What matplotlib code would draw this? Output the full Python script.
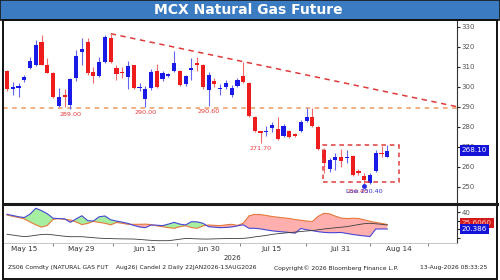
import numpy as np
import pandas as pd
import matplotlib
matplotlib.use("Agg")
import matplotlib.pyplot as plt
from matplotlib.patches import Rectangle
from matplotlib.lines import Line2D

# daily candles, 13 May 2026 .. 13 Aug 2026 (MCX natural gas, Rs/mmBtu)
first_day = "2026-05-13"
last_day = "2026-08-13"

opens = [308.0, 298.8, 299.6, 303.4, 309.2, 311.0, 322.5, 310.9, 307.0, 290.4,
         295.9, 291.0, 304.2, 317.5, 322.5, 307.5, 305.3, 312.5, 324.2, 309.2,
         307.5, 305.0, 310.7, 299.2, 293.7, 299.2, 307.8, 303.7, 305.5, 308.0,
         307.8, 301.4, 308.4, 312.0, 310.9, 298.4, 302.9, 298.7, 300.0, 295.9,
         300.5, 305.3, 302.0, 285.0, 277.6, 277.2, 279.2, 278.7, 275.5, 278.0,
         276.5, 278.0, 283.0, 284.8, 279.8, 268.5, 259.0, 263.4, 265.0, 264.4,
         265.3, 257.6, 255.5, 252.0, 258.0, 266.8, 265.0]
highs = [308.5, 302.5, 301.7, 306.0, 315.0, 323.3, 326.0, 314.5, 307.5, 299.2,
         299.0, 304.5, 318.3, 324.5, 324.3, 310.0, 315.0, 326.0, 326.5, 311.0,
         310.0, 313.0, 311.0, 301.7, 300.4, 309.0, 311.2, 308.0, 306.7, 317.8,
         308.5, 306.0, 314.2, 315.0, 311.5, 307.5, 304.2, 301.4, 303.4, 300.9,
         304.2, 312.5, 302.5, 285.5, 278.0, 280.5, 282.5, 285.0, 281.5, 278.5,
         277.0, 283.3, 289.5, 289.5, 280.3, 269.5, 264.5, 266.7, 269.0, 268.3,
         266.0, 259.0, 257.0, 257.0, 268.3, 270.5, 270.8]
lows = [298.0, 296.0, 295.0, 302.5, 309.0, 310.5, 310.8, 306.8, 294.5, 289.8,
        290.0, 289.0, 303.0, 311.0, 306.0, 301.7, 305.0, 312.0, 312.0, 303.4,
        304.5, 298.7, 298.8, 298.0, 290.0, 298.5, 299.2, 303.0, 305.0, 307.3,
        300.3, 300.6, 303.4, 307.8, 299.0, 290.6, 299.8, 295.8, 299.0, 295.0,
        300.0, 302.0, 284.8, 277.5, 271.7, 275.5, 277.5, 273.3, 274.8, 274.2,
        274.8, 277.5, 282.5, 280.0, 268.5, 256.8, 257.2, 258.5, 260.0, 261.7,
        255.5, 255.8, 250.4, 251.2, 257.5, 265.0, 264.7]
closes = [299.0, 299.8, 300.6, 304.7, 312.9, 320.8, 311.0, 307.0, 295.0, 295.0,
          295.0, 303.7, 315.3, 318.7, 306.7, 305.3, 312.5, 325.0, 312.5, 306.4,
          306.7, 310.3, 299.2, 300.0, 298.7, 307.5, 299.7, 306.7, 306.2, 311.7,
          300.9, 305.3, 309.2, 310.9, 299.7, 305.9, 301.2, 299.5, 302.0, 299.5,
          303.4, 302.5, 285.2, 278.0, 277.0, 278.0, 280.8, 273.7, 280.2, 274.8,
          275.3, 282.5, 285.0, 280.3, 269.0, 261.8, 263.2, 264.8, 263.0, 265.0,
          256.0, 257.0, 253.6, 256.0, 266.8, 266.2, 268.10]

# DMI study: +DI, -DI, ADX
di_plus = [37.3, 36.0, 34.5, 33.6, 37.5, 44.3, 41.5, 38.0, 32.8, 32.4,
           32.1, 28.1, 32.0, 35.7, 30.0, 29.6, 34.5, 35.4, 31.0, 29.5,
           28.3, 26.8, 24.5, 22.8, 21.9, 25.0, 24.8, 24.2, 26.0, 28.0,
           26.0, 25.0, 28.8, 28.6, 27.0, 23.0, 22.5, 21.9, 22.2, 22.7,
           24.0, 25.2, 21.2, 21.2, 20.5, 19.3, 18.3, 17.6, 17.0, 16.4,
           15.6, 21.0, 19.5, 18.5, 17.3, 16.5, 16.1, 16.2, 16.4, 15.2,
           14.1, 13.2, 12.4, 11.7, 20.4, 20.4, 20.386]
di_minus = [36.5, 35.0, 33.7, 32.0, 28.5, 25.2, 22.5, 24.5, 31.5, 32.4,
            31.5, 30.8, 28.5, 25.5, 26.8, 29.2, 28.0, 27.0, 25.2, 27.9,
            27.0, 25.8, 25.8, 25.8, 26.0, 25.5, 24.0, 23.0, 22.0, 21.2,
            23.0, 24.2, 22.0, 21.2, 24.0, 25.0, 24.6, 24.2, 25.2, 25.8,
            24.5, 27.0, 35.5, 37.3, 37.0, 36.0, 34.8, 34.0, 33.2, 32.5,
            31.3, 30.5, 29.6, 29.0, 35.0, 38.5, 37.8, 35.2, 33.0, 32.4,
            32.8, 32.5, 31.0, 29.2, 28.0, 26.8, 25.606]
adx = [14.3, 13.4, 12.4, 11.6, 12.2, 13.2, 14.0, 14.3, 13.6, 12.8,
       12.0, 11.5, 11.5, 11.5, 10.9, 10.4, 9.8, 9.5, 9.3, 9.1,
       9.0, 8.9, 8.8, 8.3, 7.8, 7.3, 6.9, 6.9, 6.9, 7.7,
       8.6, 9.5, 9.3, 9.0, 8.8, 8.8, 9.0, 9.2, 9.3, 9.4,
       9.5, 9.6, 10.2, 11.3, 12.1, 13.0, 14.1, 15.0, 15.6, 16.3,
       16.8, 17.5, 18.1, 18.6, 19.5, 20.4, 21.1, 21.8, 22.5, 23.1,
       24.3, 25.5, 26.5, 27.0, 26.4, 25.8, 25.0]

tick_dates = ["2026-05-15", "2026-05-29", "2026-06-15", "2026-06-30",
              "2026-07-15", "2026-07-31", "2026-08-14"]
tick_labels = ["May 15", "May 29", "Jun 15", "Jun 30", "Jul 15", "Jul 31", "Aug 14"]
price_ticks = [250, 260, 270, 280, 290, 300, 310, 320, 330]

# annotations
support = 289.3
labelled_lows = ["2026-05-28", "2026-06-16", "2026-07-01", "2026-07-14"]
low_day = "2026-08-07"
trend_from = ("2026-06-08", 326.5)
trend_to_price = 290.0
range_box = (54.9, 68.0, 252.5, 270.8)   # x0, x1 in bars, y0, y1 in price

title = "MCX Natural Gas Future"
footer_left = "ZS06 Comdty (NATURAL GAS FUT    Aug26) Candel 2 Daily 22JAN2026-13AUG2026"
footer_mid = "Copyright\u00a9 2026 Bloomberg Finance L.P."
footer_right = "13-Aug-2026 08:33:25"

UP, DOWN = "#1a1ae6", "#ee1c1c"
W, H = 500, 280


def bar_no(day):
    return np.busday_count(first_day, day)


def px_rect(x0, y0, x1, y1):
    return [x0 / W, 1 - y1 / H, (x1 - x0) / W, (y1 - y0) / H]


opens, highs, lows, closes = map(np.array, (opens, highs, lows, closes))
di_plus, di_minus, adx = map(np.array, (di_plus, di_minus, adx))
x = np.arange(len(closes))
xlim = (-0.69, 78.1)

plt.rcParams["font.family"] = ["DejaVu Sans"]
fig = plt.figure(figsize=(5, 2.8), dpi=100)

# title bar and frame
fig.patches.append(Rectangle((0, 1 - 19.5 / H), 1, 19.5 / H, transform=fig.transFigure,
                             facecolor="#3b7bc2", edgecolor="#1a1a1a", lw=1.2))
fig.text(0.497, 1 - 10 / H, title, ha="center", va="center", color="white",
         fontsize=10, fontweight="bold")
fig.patches.append(Rectangle((2.5 / W, 1 - 278.5 / H), 494.5 / W, 259 / H,
                             transform=fig.transFigure, fill=False,
                             edgecolor="#111111", lw=1.4))

ax = fig.add_axes(px_rect(3, 20, 457, 203))
ax2 = fig.add_axes(px_rect(3, 205, 457, 243))

# candles
up = closes >= opens
body_col = np.where(up, UP, DOWN)
wick_col = np.where(up, "#6464f0", "#f06a6a")
ax.vlines(x, lows, highs, colors=wick_col, lw=0.8, zorder=2)
ax.bar(x, np.maximum(np.abs(closes - opens), 0.7), bottom=np.minimum(opens, closes),
       width=0.72, color=body_col, lw=0, zorder=3)

# support line, falling trendline, consolidation box
ax.axhline(support, color="#ef9a60", lw=1.1, ls=(0, (3, 3)), zorder=1)
t0 = bar_no(trend_from[0])
ax.plot([t0, xlim[1]], [trend_from[1], trend_to_price], color="#e03a3a", lw=1.1,
        ls=(0, (3.5, 3)), zorder=1)
bx0, bx1, by0, by1 = range_box
ax.add_patch(Rectangle((bx0, by0), bx1 - bx0, by1 - by0, fill=False,
                       edgecolor="#e03a3a", lw=1.1, ls=(0, (3, 2.5)), zorder=4))

for d in labelled_lows:
    i = bar_no(d)
    ax.annotate(f"{lows[i]:.2f}", (i, lows[i]), xytext=(0, -4), textcoords="offset points",
                ha="center", va="center", fontsize=4.6, color="#e83c3c")
li = bar_no(low_day)
ax.plot(li, lows[li], "o", ms=2.5, color="#2a2ae0", zorder=5)
# the low flag prints its value twice, slightly offset
ax.annotate(f"{lows[li]:.2f}", (li, lows[li]), xytext=(-4.5, -4), textcoords="offset points",
            ha="center", va="center", fontsize=4.6, color="#e83c3c")
ax.annotate(f"Low {lows[li]:.2f}", (li, lows[li]), xytext=(0, -4), textcoords="offset points",
            ha="center", va="center", fontsize=4.6, color="#3030d8")

ax.set_xlim(*xlim)
ax.set_ylim(241.85, 333.35)
ax.yaxis.tick_right()
ax.set_yticks(price_ticks)
ax.tick_params(axis="y", labelsize=5, labelcolor="#555555", length=2, width=0.8,
               pad=1.5, color="#222222")
ax.set_xticks([])
for s in ["top", "left", "bottom"]:
    ax.spines[s].set_visible(False)
ax.spines["right"].set_color("#333333")
ax.spines["right"].set_linewidth(0.8)
ax.annotate(f"{closes[-1]:.2f}", (1, closes[-1]), xycoords=("axes fraction", "data"),
            xytext=(3.5, 0), textcoords="offset points", ha="left", va="center",
            fontsize=5.2, color="white",
            bbox=dict(boxstyle="square,pad=0.3", fc="#1414d8", ec="none"))

# separator between panels
fig.add_artist(Line2D([3 / W, 497 / W], [1 - 203.8 / H] * 2, color="#1a1a1a", lw=2.2))

# DMI panel
ax2.fill_between(x, di_plus, di_minus, where=di_plus >= di_minus, interpolate=True,
                 color="#a6efa0", lw=0)
ax2.fill_between(x, di_plus, di_minus, where=di_plus < di_minus, interpolate=True,
                 color="#ffb0ae", lw=0)
ax2.plot(x, di_minus, color="#e5793c", lw=0.8)
ax2.plot(x, di_plus, color="#4646d4", lw=0.8)
ax2.plot(x, adx, color="#3c3c3c", lw=0.6)
ax2.set_xlim(*xlim)
ax2.set_ylim(4.23, 48.08)
ax2.yaxis.tick_right()
ax2.set_yticks([10, 20, 30, 40])
ax2.set_yticklabels(["", "", "", "40"])
ax2.tick_params(axis="y", labelsize=5, labelcolor="#555555", length=2, width=0.8,
                pad=1.5, color="#222222")
ax2.annotate(f"{di_minus[-1]:.4f}", (1, di_minus[-1]), xycoords=("axes fraction", "data"),
             xytext=(3.5, 1), textcoords="offset points", ha="left", va="center",
             fontsize=5.2, color="#ffcccc",
             bbox=dict(boxstyle="square,pad=0.3", fc="#d21a1a", ec="none"))
ax2.annotate(f"{di_plus[-1]:.3f}", (1, di_plus[-1]), xycoords=("axes fraction", "data"),
             xytext=(3.5, 0), textcoords="offset points", ha="left", va="center",
             fontsize=5.2, color="white",
             bbox=dict(boxstyle="square,pad=0.3", fc="#1414d8", ec="none"))

pos = np.array([bar_no(d) for d in tick_dates]) + 0.95
ax2.set_xticks(pos)
ax2.set_xticklabels(tick_labels)
mids = np.append((pos[:-1] + pos[1:]) / 2, pos[-1] + 5.2)
ax2.set_xticks(mids, minor=True)
ax2.tick_params(axis="x", which="major", length=0, labelsize=5.2, labelcolor="#333333", pad=2)
ax2.tick_params(axis="x", which="minor", length=2.5, width=0.6, color="#666666")
for s in ["top", "left"]:
    ax2.spines[s].set_visible(False)
ax2.spines["right"].set_color("#333333")
ax2.spines["right"].set_linewidth(0.8)
ax2.spines["bottom"].set_color("#bbbbbb")
ax2.spines["bottom"].set_linewidth(0.6)

# year marker and footer
fig.text(232 / W, 1 - 258 / H, "2026", ha="center", va="center", fontsize=5, color="#333333")
fig.text(8 / W, 1 - 268 / H, footer_left, ha="left", va="center", fontsize=4.3, color="#222222")
fig.text(336 / W, 1 - 268 / H, footer_mid, ha="center", va="center", fontsize=4.3, color="#222222")
fig.text(487 / W, 1 - 268 / H, footer_right, ha="right", va="center", fontsize=4.3, color="#222222")

fig.savefig("out.png", dpi=100)
